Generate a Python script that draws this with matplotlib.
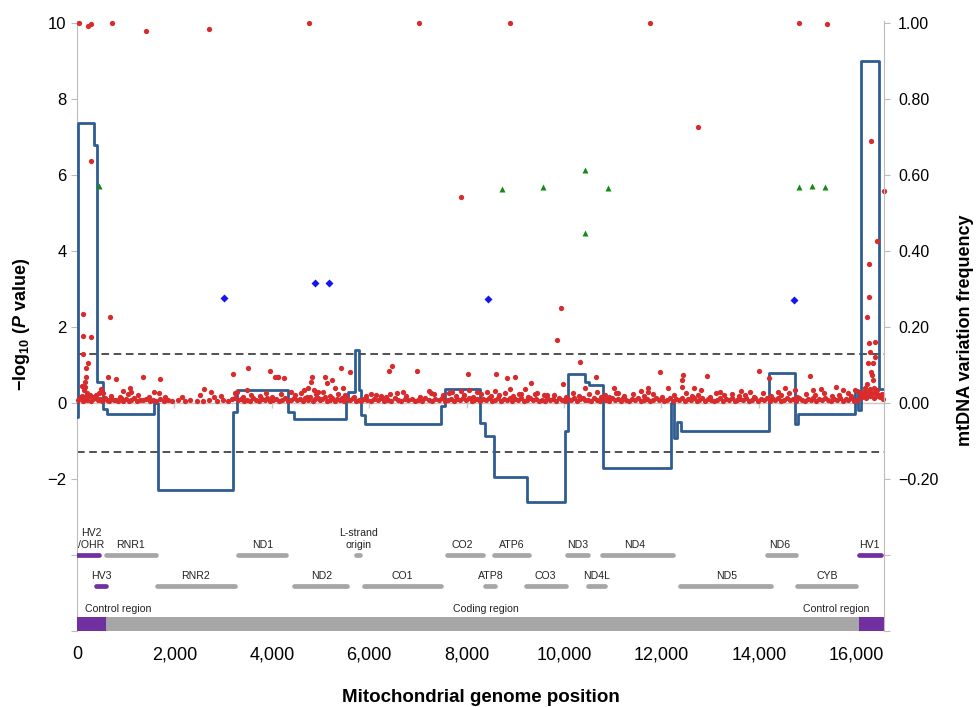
import matplotlib.pyplot as plt
import numpy as np

# ---- data ----
# blue step line (mtDNA variation frequency, drawn on the left scale x10)
step_pos = [0, 20, 345, 420, 540, 610, 1574, 1656, 3209, 3292, 4323, 4460, 5526, 5560,
            5711, 5790, 5835, 5904, 7471, 7553, 8275, 8378, 8571, 9237, 10027, 10082,
            10426, 10509, 10804, 12206, 12261, 12309, 12398, 14206, 14749, 14804,
            15973, 16041, 16089, 16468, 16569]
step_val = [-0.37, 7.37, 6.79, 0.55, -0.15, -0.28, 0.01, -2.29, -0.23, 0.34, -0.23, -0.42,
            0.05, 0.30, 1.39, 0.34, -0.32, -0.55, -0.08, 0.37, -0.53, -0.86, -1.94, -2.61,
            -0.73, 0.76, 0.56, 0.47, -1.70, 0.01, -0.91, -0.49, -0.73, 0.78, -0.56, -0.29,
            0.34, -0.18, 9.00, 0.36, 0.36]

# red points: dense low band
band_pos = [
    30, 75, 120, 160, 205, 245, 290, 335, 380, 425,
    470, 520, 565, 610, 660, 705, 750, 800, 850, 900,
    950, 1000, 1060, 1110, 1170, 1230, 1290, 1350, 1420, 1490,
    1560, 1630, 1700, 1790, 1870, 1960, 2080, 2210, 2330, 2460,
    2590, 2720, 2870, 2990, 3110, 3190, 3250, 3310, 3370, 3430,
    3490, 3550, 3610, 3670, 3730, 3790, 3850, 3910, 3970, 4030,
    4090, 4150, 4210, 4270, 4330, 4390, 4450, 4510, 4570, 4630,
    4690, 4740, 4790, 4840, 4890, 4940, 4990, 5040, 5090, 5140,
    5190, 5240, 5290, 5340, 5390, 5440, 5490, 5540, 5600, 5660,
    5720, 5780, 5840, 5900, 5960, 6030, 6100, 6170, 6240, 6310,
    6380, 6450, 6520, 6590, 6660, 6730, 6800, 6870, 6940, 7010,
    7080, 7150, 7220, 7290, 7360, 7430, 7500, 7560, 7620, 7680,
    7740, 7800, 7860, 7920, 7980, 8040, 8100, 8160, 8220, 8280,
    8340, 8400, 8460, 8520, 8580, 8640, 8700, 8760, 8820, 8880,
    8940, 9000, 9060, 9120, 9180, 9240, 9300, 9360, 9420, 9480,
    9540, 9600, 9660, 9720, 9780, 9840, 9900, 9960, 10020, 10080,
    10140, 10200, 10260, 10320, 10380, 10440, 10500, 10560, 10620, 10680,
    10740, 10800, 10860, 10920, 10980, 11040, 11100, 11160, 11220, 11280,
    11340, 11400, 11460, 11520, 11580, 11640, 11700, 11760, 11820, 11880,
    11940, 12000, 12060, 12120, 12180, 12240, 12300, 12360, 12420, 12480,
    12540, 12600, 12660, 12720, 12780, 12840, 12900, 12960, 13020, 13080,
    13140, 13200, 13260, 13320, 13380, 13440, 13500, 13560, 13620, 13680,
    13740, 13800, 13860, 13920, 13980, 14040, 14100, 14160, 14220, 14280,
    14340, 14400, 14460, 14520, 14580, 14640, 14700, 14760, 14820, 14880,
    14940, 15000, 15060, 15120, 15180, 15240, 15300, 15360, 15420, 15480,
    15540, 15600, 15660, 15720, 15780, 15840, 15900, 15960, 16020, 16080,
    16120, 16160, 16200, 16240, 16280, 16320, 16360, 16400, 16440, 16480,
    16520, 16555]
band_val = [
    0.08, 0.15, 0.05, 0.12, 0.09, 0.18, 0.06, 0.11, 0.14, 0.07,
    0.10, 0.05, 0.13, 0.08, 0.04, 0.11, 0.07, 0.09, 0.05, 0.12,
    0.06, 0.10, 0.04, 0.08, 0.13, 0.05, 0.09, 0.07, 0.11, 0.04,
    0.08, 0.06, 0.10, 0.05, 0.09, 0.04, 0.07, 0.05, 0.08, 0.06,
    0.04, 0.07, 0.05, 0.09, 0.06, 0.10, 0.13, 0.07, 0.11, 0.05,
    0.09, 0.06, 0.12, 0.08, 0.04, 0.10, 0.07, 0.13, 0.05, 0.09,
    0.11, 0.06, 0.08, 0.12, 0.05, 0.09, 0.14, 0.07, 0.10, 0.06,
    0.12, 0.08, 0.15, 0.05, 0.10, 0.13, 0.07, 0.11, 0.16, 0.06,
    0.09, 0.14, 0.05, 0.11, 0.08, 0.12, 0.06, 0.10, 0.07, 0.13,
    0.05, 0.09, 0.06, 0.11, 0.08, 0.04, 0.10, 0.07, 0.12, 0.05,
    0.09, 0.06, 0.13, 0.08, 0.05, 0.10, 0.07, 0.11, 0.04, 0.09,
    0.06, 0.12, 0.08, 0.05, 0.10, 0.07, 0.13, 0.06, 0.09, 0.11,
    0.05, 0.10, 0.07, 0.12, 0.08, 0.14, 0.06, 0.09, 0.11, 0.05,
    0.10, 0.07, 0.13, 0.06, 0.09, 0.12, 0.05, 0.11, 0.08, 0.14,
    0.06, 0.10, 0.08, 0.12, 0.05, 0.09, 0.13, 0.07, 0.11, 0.06,
    0.09, 0.05, 0.12, 0.08, 0.10, 0.06, 0.13, 0.07, 0.05, 0.11,
    0.08, 0.12, 0.06, 0.10, 0.14, 0.07, 0.09, 0.05, 0.12, 0.08,
    0.06, 0.11, 0.09, 0.05, 0.13, 0.07, 0.10, 0.06, 0.12, 0.08,
    0.05, 0.10, 0.07, 0.13, 0.06, 0.09, 0.11, 0.05, 0.08, 0.12,
    0.07, 0.10, 0.05, 0.09, 0.13, 0.06, 0.11, 0.08, 0.14, 0.06,
    0.10, 0.07, 0.12, 0.05, 0.09, 0.13, 0.06, 0.11, 0.08, 0.05,
    0.09, 0.12, 0.06, 0.10, 0.07, 0.14, 0.05, 0.09, 0.11, 0.07,
    0.12, 0.06, 0.09, 0.13, 0.05, 0.10, 0.08, 0.12, 0.06, 0.11,
    0.07, 0.13, 0.05, 0.09, 0.12, 0.08, 0.10, 0.06, 0.14, 0.09,
    0.05, 0.11, 0.08, 0.13, 0.06, 0.10, 0.07, 0.12, 0.09, 0.05,
    0.10, 0.07, 0.14, 0.06, 0.11, 0.08, 0.13, 0.05, 0.09, 0.12,
    0.15, 0.22, 0.12, 0.28, 0.18, 0.25, 0.14, 0.30, 0.20, 0.16,
    0.24, 0.10]

# red points: fuzz just above the band
fuzz_pos = [
    95, 215, 355, 530, 690, 880, 1040, 1250, 1470, 1680,
    2150, 2530, 2960, 3240, 3400, 3580, 3760, 3880, 4000, 4180,
    4480, 4600, 4720, 4910, 5060, 5200, 5350, 5500, 5690, 5930,
    6130, 6350, 6560, 6760, 7050, 7330, 7520, 7640, 7780, 7950,
    8130, 8300, 8490, 8660, 8790, 8950, 9110, 9270, 9450, 9640,
    9800, 10050, 10180, 10300, 10520, 10760, 10850, 11070, 11240, 11420,
    11640, 11830, 12010, 12250, 12500, 12620, 12750, 12990, 13120, 13280,
    13450, 13590, 13720, 13900, 14080, 14250, 14450, 14610, 14790, 14960,
    15150, 15330, 15500, 15650, 15820, 15900, 16050]
fuzz_val = [
    0.18, 0.22, 0.15, 0.26, 0.19, 0.16, 0.24, 0.20, 0.17, 0.27,
    0.16, 0.21, 0.18, 0.25, 0.15, 0.22, 0.19, 0.27, 0.16, 0.23,
    0.20, 0.26, 0.17, 0.23, 0.28, 0.18, 0.24, 0.21, 0.16, 0.19,
    0.22, 0.17, 0.25, 0.19, 0.16, 0.23, 0.20, 0.26, 0.18, 0.22,
    0.17, 0.24, 0.19, 0.21, 0.26, 0.18, 0.23, 0.16, 0.25, 0.20,
    0.22, 0.17, 0.25, 0.19, 0.23, 0.16, 0.21, 0.26, 0.18, 0.24,
    0.19, 0.23, 0.16, 0.21, 0.25, 0.18, 0.22, 0.17, 0.26, 0.20,
    0.23, 0.18, 0.21, 0.16, 0.25, 0.19, 0.22, 0.27, 0.17, 0.24,
    0.20, 0.26, 0.18, 0.22, 0.25, 0.19, 0.28]

# red points: scattered mid values
mid_pos = [179, 192, 165, 160, 150, 100, 140, 200, 260, 320,
           380, 488, 460, 646, 804, 942, 1093, 1107, 1354, 1588,
           1711, 1814, 2605, 2756, 2811, 3203, 3292, 3484, 3519, 3966,
           4062, 4117, 4130, 4241, 4392, 4666, 4749, 4804, 4831, 4859,
           4955, 5100, 5134, 5230, 5299, 5423, 5457, 5608, 6041, 6233,
           6405, 6433, 6474, 6694, 6983, 7223, 7278, 7691, 7883, 8034,
           8055, 8206, 8412, 8584, 8605, 8825, 8880, 8997, 9079, 9203,
           9326, 9409, 9594, 9979, 10440, 10646, 10680, 10921, 11024, 11113,
           11588, 11725, 11730, 11965, 12138, 12412, 12419, 12433, 12673, 12810,
           12928, 13203, 13635, 13808, 13993, 14206, 14392, 14543, 14736, 15045,
           15113, 15285, 15581, 15732, 15973, 16100, 16150, 16180, 16200, 16213,
           16250, 16290, 16303, 16320, 16337, 16360, 16380, 16420, 16440, 16480]
mid_val = [0.91, 0.68, 0.56, 0.41, 0.16, 0.45, 0.35, 0.25, 0.20, 0.15,
           0.22, 0.36, 0.25, 0.69, 0.64, 0.32, 0.39, 0.30, 0.69, 0.30,
           0.64, 0.17, 0.36, 0.29, 0.17, 0.75, 0.30, 0.34, 0.91, 0.85,
           0.68, 0.67, 0.68, 0.65, 0.30, 0.35, 0.39, 0.54, 0.67, 0.34,
           0.30, 0.69, 0.53, 0.61, 0.39, 0.93, 0.39, 0.82, 0.23, 0.18,
           0.85, 0.23, 0.97, 0.30, 0.85, 0.32, 0.27, 0.30, 0.32, 0.76,
           0.34, 0.30, 0.29, 0.32, 0.76, 0.65, 0.36, 0.69, 0.24, 0.36,
           0.53, 0.24, 0.21, 0.50, 0.39, 0.69, 0.28, 0.17, 0.39, 0.27,
           0.32, 0.39, 0.28, 0.82, 0.39, 0.61, 0.41, 0.73, 0.40, 0.34,
           0.72, 0.29, 0.32, 0.30, 0.84, 0.65, 0.30, 0.40, 0.35, 0.72,
           0.33, 0.36, 0.41, 0.34, 0.33, 0.25, 0.30, 0.40, 0.20, 0.50,
           0.30, 0.38, 0.82, 0.74, 0.61, 0.40, 0.25, 0.33, 0.18, 0.20]

# red points: high values
high_pos = [40, 230, 290, 720, 1420, 2700, 4760, 7030, 8890, 11770, 14820, 15400,
            290, 12740, 16310, 16560, 7880, 16430, 16270, 16260, 9940, 131,
            680, 16213, 117, 289, 9856, 16261, 16385, 117, 16282, 16385,
            10337, 220, 16247, 16337]
high_val = [10.0, 9.92, 9.97, 10.0, 9.8, 9.85, 10.0, 10.0, 10.0, 10.0, 10.0, 9.97,
            6.37, 7.26, 6.9, 5.58, 5.42, 4.26, 3.66, 2.78, 2.5, 2.33,
            2.26, 2.26, 1.77, 1.73, 1.66, 1.57, 1.61, 1.29, 1.33, 1.20,
            1.09, 1.04, 1.04, 1.04]

tri_pos = [450, 8720, 9570, 10430, 10430, 10910, 14820, 15090, 15360]
tri_val = [5.71, 5.63, 5.68, 6.13, 4.47, 5.66, 5.68, 5.71, 5.68]

dia_pos = [3010, 4890, 5180, 8430, 14720]
dia_val = [2.76, 3.16, 3.16, 2.74, 2.71]

# gene map
row1_names = ["HV2\n/OHR", "RNR1", "ND1", "L-strand\norigin", "CO2", "ATP6", "ND3", "ND4", "ND6", "HV1"]
row1_start = [0, 600, 3300, 5720, 7590, 8560, 10060, 10780, 14160, 16060]
row1_end = [450, 1630, 4290, 5810, 8330, 9280, 10490, 12230, 14760, 16500]
row1_label_x = [290, 1090, 3810, 5770, 7920, 8930, 10270, 11440, 14430, 16270]
row1_hv = [True, False, False, False, False, False, False, False, False, True]

row2_names = ["HV3", "RNR2", "ND2", "CO1", "ATP8", "CO3", "ND4L", "ND5", "CYB"]
row2_start = [400, 1640, 4460, 5890, 8380, 9210, 10500, 12380, 14790]
row2_end = [590, 3240, 5540, 7480, 8590, 10050, 10840, 14240, 15990]
row2_label_x = [495, 2430, 5030, 6680, 8490, 9610, 10660, 13340, 15400]
row2_hv = [True, False, False, False, False, False, False, False, False]

region_names = ["Control region", "Coding region", "Control region"]
region_start = [0, 600, 16060]
region_end = [600, 16060, 16569]
region_label_x = [840, 8390, 15590]
region_control = [True, False, True]

xtick_vals = [0, 2000, 4000, 6000, 8000, 10000, 12000, 14000, 16000]
ytick_vals = [-6, -4, -2, 0, 2, 4, 6, 8, 10]
ytick_labels = ["", "", "\u22122", "0", "2", "4", "6", "8", "10"]
rtick_labels = ["", "", "\u22120.20", "0.00", "0.20", "0.40", "0.60", "0.80", "1.00"]

RED = "#d92b2b"
GREEN = "#138a13"
BLUE = "#1414f0"
LINE = "#2f5d91"
GREY = "#a6a6a6"
PURPLE = "#7030a0"
AXGREY = "#bcbcbc"

plt.rcParams.update({
    "font.family": ["Liberation Sans", "DejaVu Sans"],
    "mathtext.fontset": "custom",
    "mathtext.rm": "Liberation Sans:bold",
    "mathtext.it": "Liberation Sans:bold:italic",
    "mathtext.bf": "Liberation Sans:bold",
})

W, H = 979, 707
fig = plt.figure(figsize=(W / 100, H / 100), dpi=100)
ax = fig.add_axes([77 / W, 1 - 631 / H, (884 - 77) / W, (631 - 21) / H])
ax.set_xlim(0, 16569)
ax.set_ylim(-6.0, 10.05)

# zero line with small ticks, significance lines
ax.axhline(0, color="#c8c8c8", lw=1.0, zorder=1)
ax.vlines(xtick_vals[1:], -0.12, 0, color="#c8c8c8", lw=1.0, zorder=1)
for yv in (1.3, -1.3):
    ax.axhline(yv, color="#222222", ls=(0, (5, 3)), lw=1.1, zorder=2)

ax.step(step_pos, step_val, where="post", color=LINE, lw=2.0, zorder=3)

pt = dict(ls="none", mec="none", zorder=4, clip_on=False)
ax.plot(band_pos, band_val, "o", ms=3.8, color=RED, **pt)
ax.plot(fuzz_pos, fuzz_val, "o", ms=3.8, color=RED, **pt)
ax.plot(mid_pos, mid_val, "o", ms=3.8, color=RED, **pt)
ax.plot(high_pos, high_val, "o", ms=3.8, color=RED, **pt)
ax.plot(tri_pos, tri_val, "^", ms=4.6, color=GREEN, **pt)
ax.plot(dia_pos, dia_val, "D", ms=4.2, color=BLUE, **pt)

# gene map rows
for names, starts, ends, lx, hv, ybar, ylab in [
    (row1_names, row1_start, row1_end, row1_label_x, row1_hv, -4.0, -3.86),
    (row2_names, row2_start, row2_end, row2_label_x, row2_hv, -4.82, -4.68),
]:
    cols = [PURPLE if h else GREY for h in hv]
    ax.hlines([ybar] * len(starts), starts, ends, colors=cols, lw=3.4,
              capstyle="round", zorder=3)
    for n, x in zip(names, lx):
        ax.text(x, ylab, n, ha="center", va="bottom", fontsize=7.6,
                color="#222222", linespacing=1.15)

reg_cols = [PURPLE if c else GREY for c in region_control]
ax.barh(-5.815, np.array(region_end) - np.array(region_start), left=region_start,
        height=0.37, color=reg_cols, zorder=3)
for n, x in zip(region_names, region_label_x):
    ax.text(x, -5.56, n, ha="center", va="bottom", fontsize=7.6, color="#222222")

# axes styling
for s in ("top", "bottom", "right"):
    ax.spines[s].set_visible(False)
ax.spines["left"].set_color(AXGREY)
ax.set_xticks(xtick_vals)
ax.set_xticklabels([f"{v:,}" for v in xtick_vals])
ax.tick_params(axis="x", length=0, pad=11, labelsize=13)
ax.set_yticks(ytick_vals)
ax.set_yticklabels(ytick_labels)
ax.tick_params(axis="y", length=4.5, color=AXGREY, pad=3, labelsize=12)

ax2 = ax.twinx()
ax2.set_ylim(-0.6, 1.005)
ax2.set_yticks([v / 10 for v in ytick_vals])
ax2.set_yticklabels(rtick_labels)
for s in ("top", "bottom", "left"):
    ax2.spines[s].set_visible(False)
ax2.spines["right"].set_color(AXGREY)
ax2.tick_params(axis="y", length=4, color=AXGREY, pad=6, labelsize=11.5)

fig.text(481 / W, 1 - 697 / H, "Mitochondrial genome position", ha="center",
         va="center", fontsize=13.5, fontweight="bold")
fig.text(22 / W, 1 - 324 / H, r"$-\mathrm{log}_{10}\ (P\ \mathrm{value})$",
         rotation=90, ha="center", va="center", fontsize=13)
fig.text(966 / W, 1 - 330 / H, "mtDNA variation frequency", rotation=90,
         ha="center", va="center", fontsize=13, fontweight="bold")

fig.savefig("out.png", dpi=100, facecolor="white")
